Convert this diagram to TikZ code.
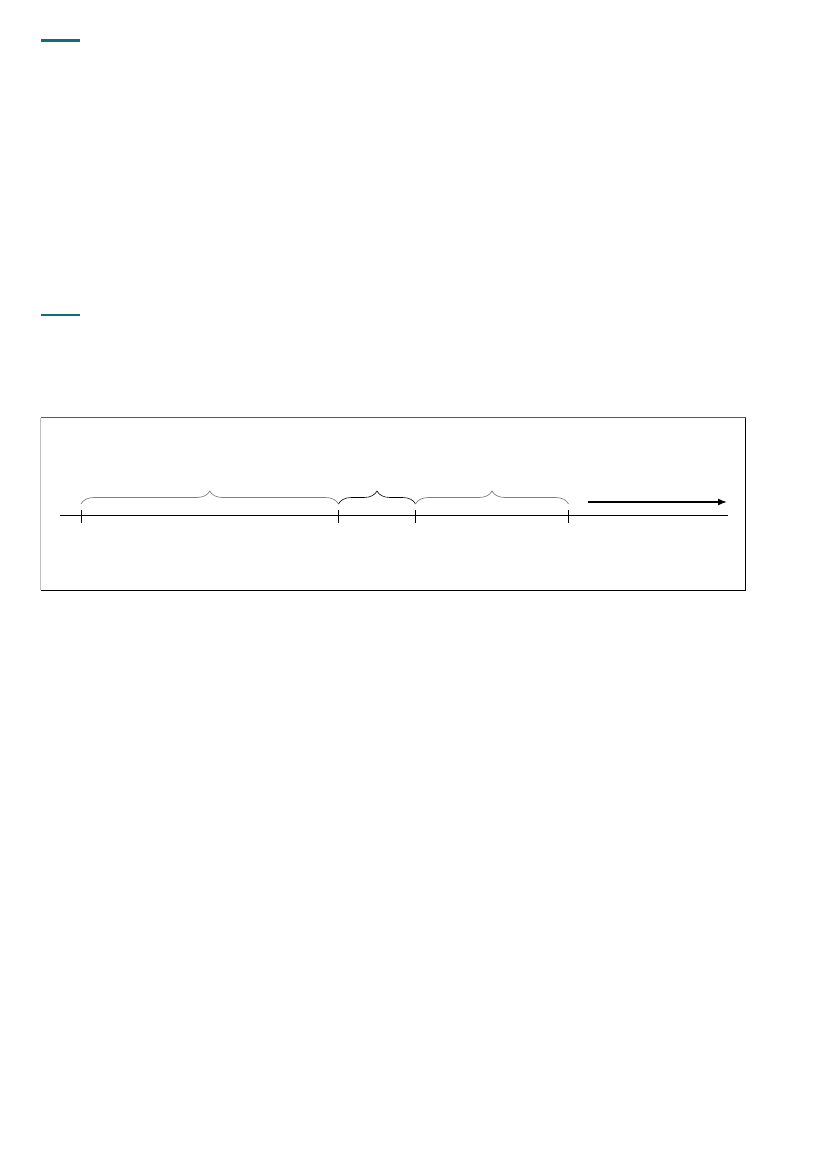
\documentclass[tikz,border=0pt]{standalone}
\usepackage{tikz}
\usetikzlibrary{arrows.meta}
\usetikzlibrary{decorations.pathreplacing}
\definecolor{petrol}{RGB}{18,110,118}
\tikzstyle{balken} = [line width=3.5pt, draw=petrol]
\tikzstyle{strich} = [line width=2pt, draw=petrol]
\tikzstyle{achse} = [line width=1.2pt, draw=black]
\tikzstyle{marke} = [line width=0.9pt, draw=black]
\tikzstyle{klammer} = [decorate, decoration={brace, amplitude=13pt}, line width=0.7pt, draw=gray]
\tikzstyle{arrow} = [line width=1.6pt, -{Latex[length=9pt, width=7pt]}]

\begin{document}
\begin{tikzpicture}[x=1pt, y=1pt]
						\useasboundingbox (0,0) rectangle (827,-1169);
						\coordinate (b1) at (41,-40.5);
						\coordinate (b2) at (80,-40.5);
						\draw[balken] (b1) -- (b2);
						\coordinate (s1) at (41,-315);
						\coordinate (s2) at (80,-315);
						\draw[strich] (s1) -- (s2);
						% Rahmen
						\coordinate (r1) at (40.5,-590);
						\coordinate (r2) at (40.5,-417.5);
						\coordinate (r3) at (745.5,-417.5);
						\coordinate (r4) at (745.5,-590);
						\draw[line width=1pt, draw=black!25] (r1) -- (r2);
						\draw[line width=1pt, draw=black!65] (r2) -- (r3);
						\draw[line width=1pt, draw=black] (r3) -- (r4) -- (r1);
						% Zeitachse
						\coordinate (a0) at (60,-515.5);
						\coordinate (a1) at (727.5,-515.5);
						\draw[achse] (a0) -- (a1);
						\foreach \x/\n in {81/t1, 338.5/t2, 415.5/t3, 568.5/t4} {
							\coordinate (\n) at (\x,-515.5);
							\draw[marke] ([yshift=5.5pt]\n) -- ([yshift=-7pt]\n);
						}
						% Klammern
						\draw[klammer] ([yshift=11.5pt]t1) -- ([yshift=11.5pt]t2);
						\draw[klammer, draw=black, line width=0.6pt] ([yshift=11.5pt]t2) -- ([yshift=11.5pt]t3);
						\draw[klammer] ([yshift=11.5pt]t3) -- ([yshift=11.5pt]t4);
						\coordinate (p0) at (588,-502);
						\coordinate (p1) at (727,-502);
						\draw[arrow] (p0) -- (p1);
					\end{tikzpicture}
\end{document}
